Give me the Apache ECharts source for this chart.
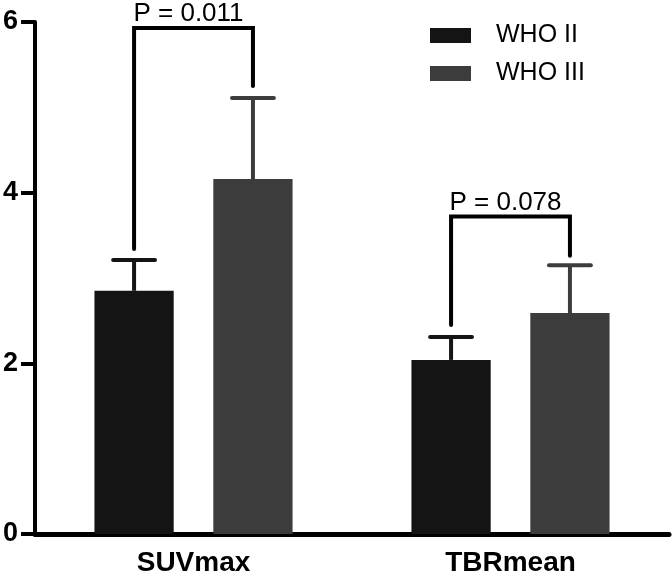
<!DOCTYPE html>
<html>
<head>
<meta charset="utf-8">
<script src="https://cdn.jsdelivr.net/npm/echarts@6/dist/echarts.min.js"></script>
<style>
html,body{margin:0;padding:0;background:#fff;}
#chart{width:672px;height:580px;}
</style>
</head>
<body>
<div id="chart"></div>
<script>
// ---- data ----
const categories = ['SUVmax', 'TBRmean'];
const seriesNames = ['WHO II', 'WHO III'];
const whoII = [2.85, 2.04];
const whoIIErrTop = [3.21, 2.31];
const whoIII = [4.16, 2.59];
const whoIIIErrTop = [5.11, 3.15];
const pLabels = ['P = 0.011', 'P = 0.078'];
const bracketTop = [5.93, 3.72];
const bracketLeftEnd = [3.34, 2.45];
const bracketRightEnd = [5.25, 3.26];
const yMin = 0, yMax = 6, yInterval = 2;

// ---- styles ----
const colII = '#141414';
const colIII = '#3c3c3c';
const FONT = '"Liberation Sans", Arial, Helvetica, sans-serif';
const BAR_FRAC = 0.25;   // bar width as share of category band
const GAP_FRAC = 0.5;    // gap between bars as share of bar width
const OFFSET = (BAR_FRAC / 2) + (BAR_FRAC * GAP_FRAC) / 2; // center offset as share of band

const chart = echarts.init(document.getElementById('chart'), null, {renderer: 'canvas'});

function errItem(offsetSign, color) {
  return function (params, api) {
    const i = api.value(0);
    const base = api.coord([i, api.value(1)]);
    const top = api.coord([i, api.value(2)]);
    const band = api.size([1, 0])[0];
    const x = base[0] + offsetSign * OFFSET * band;
    const half = band * 0.066;
    return {
      type: 'group',
      children: [
        {type: 'line', shape: {x1: x, y1: base[1], x2: x, y2: top[1]},
         style: {stroke: color, lineWidth: 4}},
        {type: 'line', shape: {x1: x - half, y1: top[1], x2: x + half, y2: top[1]},
         style: {stroke: color, lineWidth: 4, lineCap: 'round'}}
      ]
    };
  };
}

function bracketItem(params, api) {
  const i = api.value(0);
  const band = api.size([1, 0])[0];
  const c = api.coord([i, api.value(1)]);
  const l = api.coord([i, api.value(2)]);
  const r = api.coord([i, api.value(3)]);
  const xl = c[0] - OFFSET * band;
  const xr = c[0] + OFFSET * band;
  return {
    type: 'group',
    children: [
      {type: 'polyline',
       shape: {points: [[xl, l[1]], [xl, c[1]], [xr, c[1]], [xr, r[1]]]},
       style: {stroke: '#000', lineWidth: 4, fill: null, lineJoin: 'miter', lineCap: 'round'}},
      {type: 'text',
       style: {text: pLabels[i], x: c[0] - 5, y: c[1] - 1, align: 'center', verticalAlign: 'bottom',
               font: '26px ' + FONT, fill: '#000'}}
    ]
  };
}

const option = {
  backgroundColor: '#fff',
  animation: false,
  grid: {left: 34, right: 3, top: 22, bottom: 46},
  legend: {
    data: seriesNames.map(n => ({name: n, icon: 'rect'})),
    orient: 'vertical',
    left: 425, top: 18,
    itemWidth: 41, itemHeight: 15, itemGap: 13,
    textStyle: {fontFamily: FONT, fontSize: 25, color: '#000', padding: [0, 0, 0, 20]}
  },
  xAxis: {
    type: 'category',
    data: categories,
    axisLine: {lineStyle: {color: '#000', width: 5}},
    axisTick: {alignWithLabel: true, length: 13, lineStyle: {color: '#000', width: 4}},
    axisLabel: {fontFamily: FONT, fontWeight: 'bold', fontSize: 28, color: '#000', margin: 15}
  },
  yAxis: {
    type: 'value',
    min: yMin, max: yMax, interval: yInterval,
    axisLine: {show: true, lineStyle: {color: '#000', width: 4}},
    axisTick: {show: true, length: 14, lineStyle: {color: '#000', width: 4}},
    splitLine: {show: false},
    axisLabel: {fontFamily: FONT, fontWeight: 'bold', fontSize: 27, color: '#000', margin: 17}
  },
  series: [
    {name: seriesNames[0], type: 'bar', data: whoII, barWidth: (BAR_FRAC * 100) + '%',
     barGap: (GAP_FRAC * 100) + '%', itemStyle: {color: colII}, z: 3},
    {name: seriesNames[1], type: 'bar', data: whoIII, barWidth: (BAR_FRAC * 100) + '%',
     barGap: (GAP_FRAC * 100) + '%', itemStyle: {color: colIII}, z: 3},
    {type: 'custom', clip: false, z: 2,
     data: categories.map((c, i) => [i, whoII[i], whoIIErrTop[i]]),
     renderItem: errItem(-1, colII)},
    {type: 'custom', clip: false, z: 2,
     data: categories.map((c, i) => [i, whoIII[i], whoIIIErrTop[i]]),
     renderItem: errItem(1, colIII)},
    {type: 'custom', clip: false, z: 4,
     data: categories.map((c, i) => [i, bracketTop[i], bracketLeftEnd[i], bracketRightEnd[i]]),
     renderItem: bracketItem}
  ]
};
chart.setOption(option);
</script>
</body>
</html>
